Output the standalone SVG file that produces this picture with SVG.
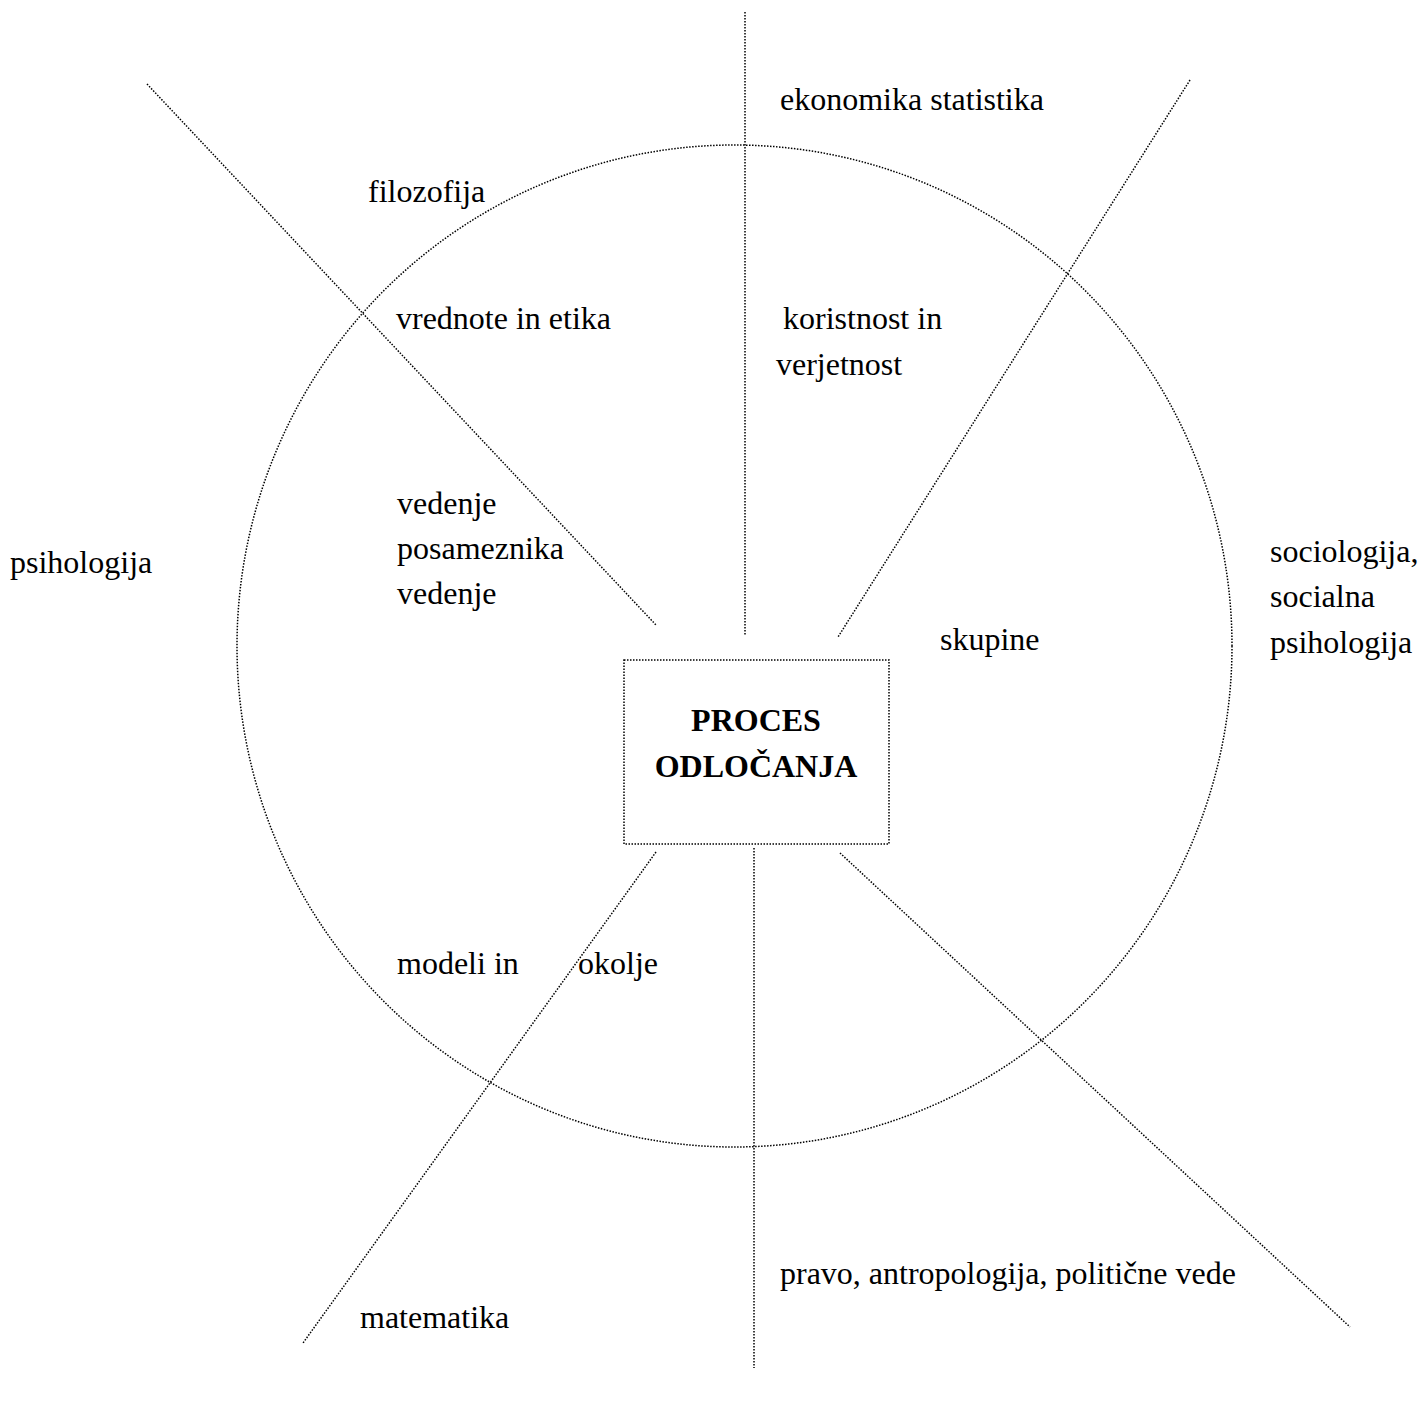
<svg xmlns="http://www.w3.org/2000/svg" width="1423" height="1403" viewBox="0 0 1423 1403">
<style>
.dl{fill:none;stroke:#000;stroke-width:1.5;stroke-dasharray:1.5 1.5}
.t{font-family:"Liberation Serif","Times New Roman",serif;font-size:32px;fill:#000}
.b{font-family:"Liberation Serif","Times New Roman",serif;font-size:32px;font-weight:bold;fill:#000;text-anchor:middle}
</style>
<rect width="1423" height="1403" fill="#fff"/>
<g id="connectors">
<ellipse class="dl" cx="734.5" cy="646" rx="497.5" ry="501"/>
<line class="dl" x1="745" y1="12" x2="745" y2="635"/>
<line class="dl" x1="754" y1="848" x2="754" y2="1368"/>
<line class="dl" x1="147" y1="84" x2="656" y2="625"/>
<line class="dl" x1="1190" y1="80" x2="838" y2="637"/>
<line class="dl" x1="656" y1="852" x2="303" y2="1343"/>
<line class="dl" x1="840" y1="853" x2="1350" y2="1327"/>
</g>
<g id="center">
<rect class="dl" x="624" y="660" width="265" height="184"/>
<text class="b" x="756" y="731">PROCES</text>
<text class="b" x="756" y="777">ODLOČANJA</text>
</g>
<g id="labels">
<text class="t" x="780" y="110">ekonomika statistika</text>
<text class="t" x="368" y="202">filozofija</text>
<text class="t" x="396" y="329">vrednote in etika</text>
<text class="t" x="783" y="329">koristnost in</text>
<text class="t" x="776" y="375">verjetnost</text>
<text class="t" x="397" y="514">vedenje</text>
<text class="t" x="397" y="559">posameznika</text>
<text class="t" x="397" y="604">vedenje</text>
<text class="t" x="10" y="573">psihologija</text>
<text class="t" x="1270" y="562">sociologija,</text>
<text class="t" x="1270" y="607">socialna</text>
<text class="t" x="1270" y="653">psihologija</text>
<text class="t" x="940" y="650">skupine</text>
<text class="t" x="397" y="974">modeli in</text>
<text class="t" x="578" y="974">okolje</text>
<text class="t" x="780" y="1284">pravo, antropologija, politične vede</text>
<text class="t" x="360" y="1328">matematika</text>
</g>
</svg>
